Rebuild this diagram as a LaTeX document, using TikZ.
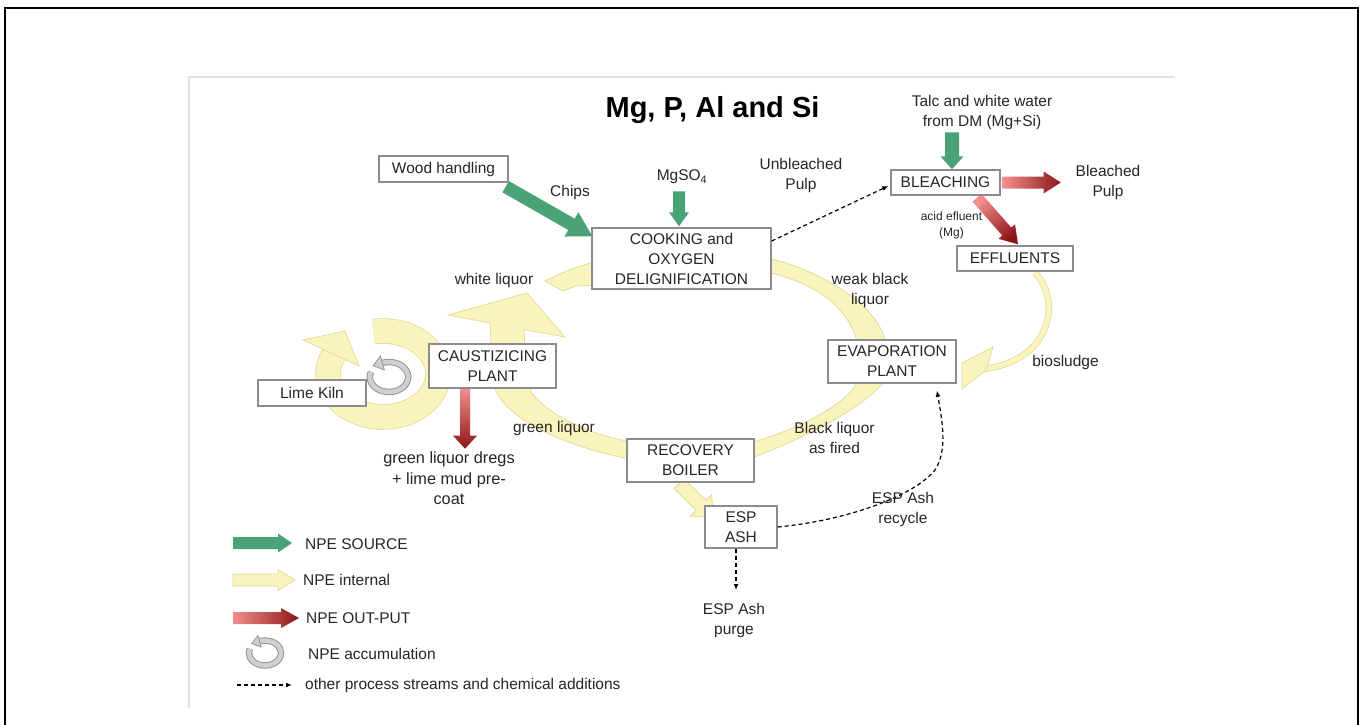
\documentclass[tikz,border=0pt]{standalone}
\usepackage{fontspec}
\setmainfont{Liberation Sans}
\usetikzlibrary{calc,arrows.meta}
\pgfdeclarelayer{bg}
\pgfsetlayers{bg,main}
\definecolor{npegreen}{RGB}{74,163,118}
\definecolor{npeyellow}{RGB}{249,244,190}
\definecolor{npeyedge}{RGB}{228,218,152}
\definecolor{redlight}{RGB}{244,142,142}
\definecolor{reddark}{RGB}{140,22,22}
\definecolor{boxline}{RGB}{140,140,140}
\definecolor{txt}{RGB}{38,38,38}
\definecolor{accfill}{RGB}{208,208,208}
\definecolor{accedge}{RGB}{150,150,150}
\definecolor{frameline}{RGB}{225,225,225}

% #1 style, #2 from, #3 to, #4 half shaft, #5 half head, #6 head length
\newcommand{\fatarrow}[6]{%
  \coordinate (faS) at #2;
  \coordinate (faE) at #3;
  \coordinate (faB) at ($(faE)!#6!(faS)$);
  \path[#1] ($(faS)!#4!90:(faE)$) -- ($(faB)!#4!-90:(faS)$) -- ($(faB)!#5!-90:(faS)$) -- (faE)
     -- ($(faB)!#5!90:(faS)$) -- ($(faB)!#4!90:(faS)$) -- ($(faS)!#4!-90:(faE)$) -- cycle;}

\begin{document}
\begin{tikzpicture}[x=1pt,y=-1pt,
  procbox/.style={draw=boxline, line width=1.4pt, fill=white, text=txt, align=center,
    inner sep=0pt, font=\fontsize{15.5}{20}\selectfont},
  lbl/.style={text=txt, align=center, inner sep=0pt, font=\fontsize{15.5}{20}\selectfont},
  band/.style={fill=npeyellow, draw=npeyedge, line width=0.8pt},
  redshade/.style={shade, top color=redlight, bottom color=reddark, shading angle=#1},
  dasharrow/.style={dashed, dash pattern=on 4pt off 3pt, line width=1.2pt, -{Latex[length=6pt,width=5pt]}},
  pics/accum/.style={code={
    \draw[accedge, line width=6.5pt] (-160:16 and 12.5) arc[start angle=-160, end angle=-470, x radius=16, y radius=12.5];
    \draw[accfill, line width=4.5pt] (-160:16 and 12.5) arc[start angle=-160, end angle=-470, x radius=16, y radius=12.5];
    \filldraw[fill=accfill, draw=accedge, line width=0.8pt] (-13.2,-9.5) -- (-3.9,-5.9) -- (-7.1,-17.5) -- cycle;
  }}
]
\useasboundingbox (0,0) rectangle (1363,725);
\draw[line width=2pt] (4.5,760) -- (4.5,8.5) -- (1357.5,8.5) -- (1357.5,760);
\draw[frameline, line width=1.5pt] (189,708) -- (189,77) -- (1175,77);

% process boxes
\node[procbox, minimum width=129pt, minimum height=26pt] (wood) at (443.5,169) {Wood handling};
\node[procbox, minimum width=179pt, minimum height=61pt] (cook) at (681.5,258.5) {COOKING and\\OXYGEN\\DELIGNIFICATION};
\node[procbox, minimum width=109pt, minimum height=25pt] (bleach) at (945.5,182.5) {BLEACHING};
\node[procbox, minimum width=116pt, minimum height=25pt] (effl) at (1015,258.5) {EFFLUENTS};
\node[procbox, minimum width=128pt, minimum height=43pt] (evap) at (892,361.5) {EVAPORATION\\PLANT};
\node[procbox, minimum width=127pt, minimum height=44pt] (caust) at (492.5,366) {CAUSTIZICING\\PLANT};
\node[procbox, minimum width=108pt, minimum height=26pt] (lime) at (312,393) {Lime Kiln};
\node[procbox, minimum width=127pt, minimum height=43pt] (rb) at (690.5,460.5) {RECOVERY\\BOILER};
\node[procbox, minimum width=72pt, minimum height=42pt] (esp) at (741,527) {ESP\\ASH};

\begin{pgfonlayer}{bg}
\fill[white] (0,0) rectangle (1363,725);
% main liquor cycle
\path[band] (545,281) .. controls (565,271) and (580,265) .. (600,261) -- (600,285) -- (576,286) -- (563,291) -- cycle;
\path[band] (762,258) -- (771,259) .. controls (805,266) and (880,300) .. (886,345) -- (886,370)
   .. controls (886,376) .. (882,384) .. controls (860,410) and (800,440) .. (754,457) -- (745,458)
   -- (745,443) -- (754,442) .. controls (800,428) and (845,405) .. (857,383) -- (858,345)
   .. controls (850,310) and (820,285) .. (771,273) -- (762,273) -- cycle;
\path[band] (640,461) .. controls (580,451) and (500,422) .. (493,382) -- (490,323) -- (448,315)
   -- (527,293) -- (565,337) -- (524,329.5) -- (527,385) .. controls (540,412) and (590,437) .. (640,443) -- cycle;
% lime kiln cycle
\draw[npeyedge, line width=25.6pt] (383,374) ++(-100:55 and 43) arc[start angle=-100, end angle=208, x radius=55, y radius=43];
\draw[npeyellow, line width=24pt] (383,374) ++(-100:55 and 43) arc[start angle=-100, end angle=208, x radius=55, y radius=43];
\path[band] (303,340) -- (345,331) -- (359,366) -- cycle;
% recovery boiler to ESP ash
\fatarrow{band}{($(rb.south)+(-11.5,1)$)}{($(esp.north west)+(9,12)$)}{7pt}{15pt}{17pt}
% biosludge
\draw[npeyedge, line width=6.5pt] ($(effl.south)+(20,1)$) .. controls (1062,300) and (1052,362) .. (982,369);
\draw[npeyellow, line width=5pt] ($(effl.south)+(20,1)$) .. controls (1062,300) and (1052,362) .. (982,369);
\path[band] (993,347) -- (962,363) -- (962,389) -- (986,370) -- cycle;
% sources
\fatarrow{fill=npegreen}{($(wood.south east)+(-3,4)$)}{($(cook.north west)+(1,9)$)}{6.5pt}{14pt}{24pt}
\fatarrow{fill=npegreen}{($(cook.north)+(-2.5,-36)$)}{($(cook.north)+(-2.5,-1)$)}{6pt}{10pt}{14pt}
\fatarrow{fill=npegreen}{($(bleach.north)+(6.5,-37)$)}{($(bleach.north)+(6.5,0)$)}{7pt}{11.5pt}{13pt}
% outputs
\fatarrow{redshade=90}{($(bleach.east)+(2,0)$)}{($(bleach.east)+(60,0)$)}{6pt}{11pt}{17pt}
\fatarrow{redshade=40}{($(bleach.south)+(31.5,2)$)}{($(effl.north)+(3,-1)$)}{6pt}{11pt}{17pt}
\fatarrow{redshade=0}{($(caust.south)+(-27.5,0)$)}{($(caust.south)+(-27.5,60)$)}{5pt}{12pt}{13pt}
\end{pgfonlayer}

% accumulation
\pic[scale=1.2] (accA) at (389,377) {accum};

% other streams
\draw[dasharrow] ($(cook.east)+(0,-17.5)$) -- ($(bleach.west)+(-2,3.5)$);
\draw[dasharrow] (esp.east) .. controls (850,520) and (915,495) .. (935,470) .. controls (948,450) and (942,420) .. ($(evap.south)+(45,7)$);
\coordinate (purgeend) at (736,590);
\draw[dasharrow] ($(esp.south)+(-5,0)$) -- (purgeend);

% labels
\node[lbl, text=black, font=\fontsize{29}{34}\selectfont\bfseries] (title) at (712.5,110) {Mg, P, Al and Si};
\node[lbl] (chips) at (570,192) {Chips};
\node[lbl] (mgso) at (682,177) {MgSO\textsubscript{4}};
\node[lbl] (unbl) at (801,175.5) {Unbleached\\Pulp};
\node[lbl] (talc) at (982,112.5) {Talc and white water\\from DM (Mg+Si)};
\node[lbl] (bpulp) at (1108,182.5) {Bleached\\Pulp};
\node[lbl, font=\fontsize{12}{16}\selectfont] (acid) at (951.5,225) {acid efluent\\(Mg)};
\node[lbl] (weak) at (870,290) {weak black\\liquor};
\node[lbl] (white) at (494,280) {white liquor};
\node[lbl] (bios) at (1065.5,362) {biosludge};
\node[lbl] (green) at (554,428) {green liquor};
\node[lbl] (blackf) at (834.5,438) {Black liquor\\as fired};
\node[lbl] (recyc) at (903,509.5) {ESP Ash\\recycle};
\node[lbl] (purge) at (734,620.5) {ESP Ash\\purge};
\node[lbl, font=\fontsize{16.3}{20.5}\selectfont] (dregs) at (449,478.5) {green liquor dregs\\+ lime mud pre-\\coat};

% legend
\coordinate (lgA1) at (233,543); \coordinate (lgA2) at (292,543);
\fatarrow{fill=npegreen}{(lgA1)}{(lgA2)}{6pt}{9.5pt}{14pt}
\node[lbl, anchor=west] (lgT1) at (305,544) {NPE SOURCE};
\coordinate (lgB1) at (233,580); \coordinate (lgB2) at (295,580);
\fatarrow{band}{(lgB1)}{(lgB2)}{6pt}{10.5pt}{17pt}
\node[lbl, anchor=west] (lgT2) at (303,580) {NPE internal};
\coordinate (lgC1) at (233,618); \coordinate (lgC2) at (299,618);
\fatarrow{redshade=90}{(lgC1)}{(lgC2)}{6pt}{10pt}{18pt}
\node[lbl, anchor=west] (lgT3) at (306,618) {NPE OUT-PUT};
\pic (accL) at (265,653) {accum};
\node[lbl, anchor=west] (lgT4) at (308,654) {NPE accumulation};
\coordinate (lgE1) at (237,685); \coordinate (lgE2) at (292,685);
\draw[dasharrow] (lgE1) -- (lgE2);
\node[lbl, anchor=west] (lgT5) at (305,685) {other process streams and chemical additions};
\end{tikzpicture}
\end{document}
